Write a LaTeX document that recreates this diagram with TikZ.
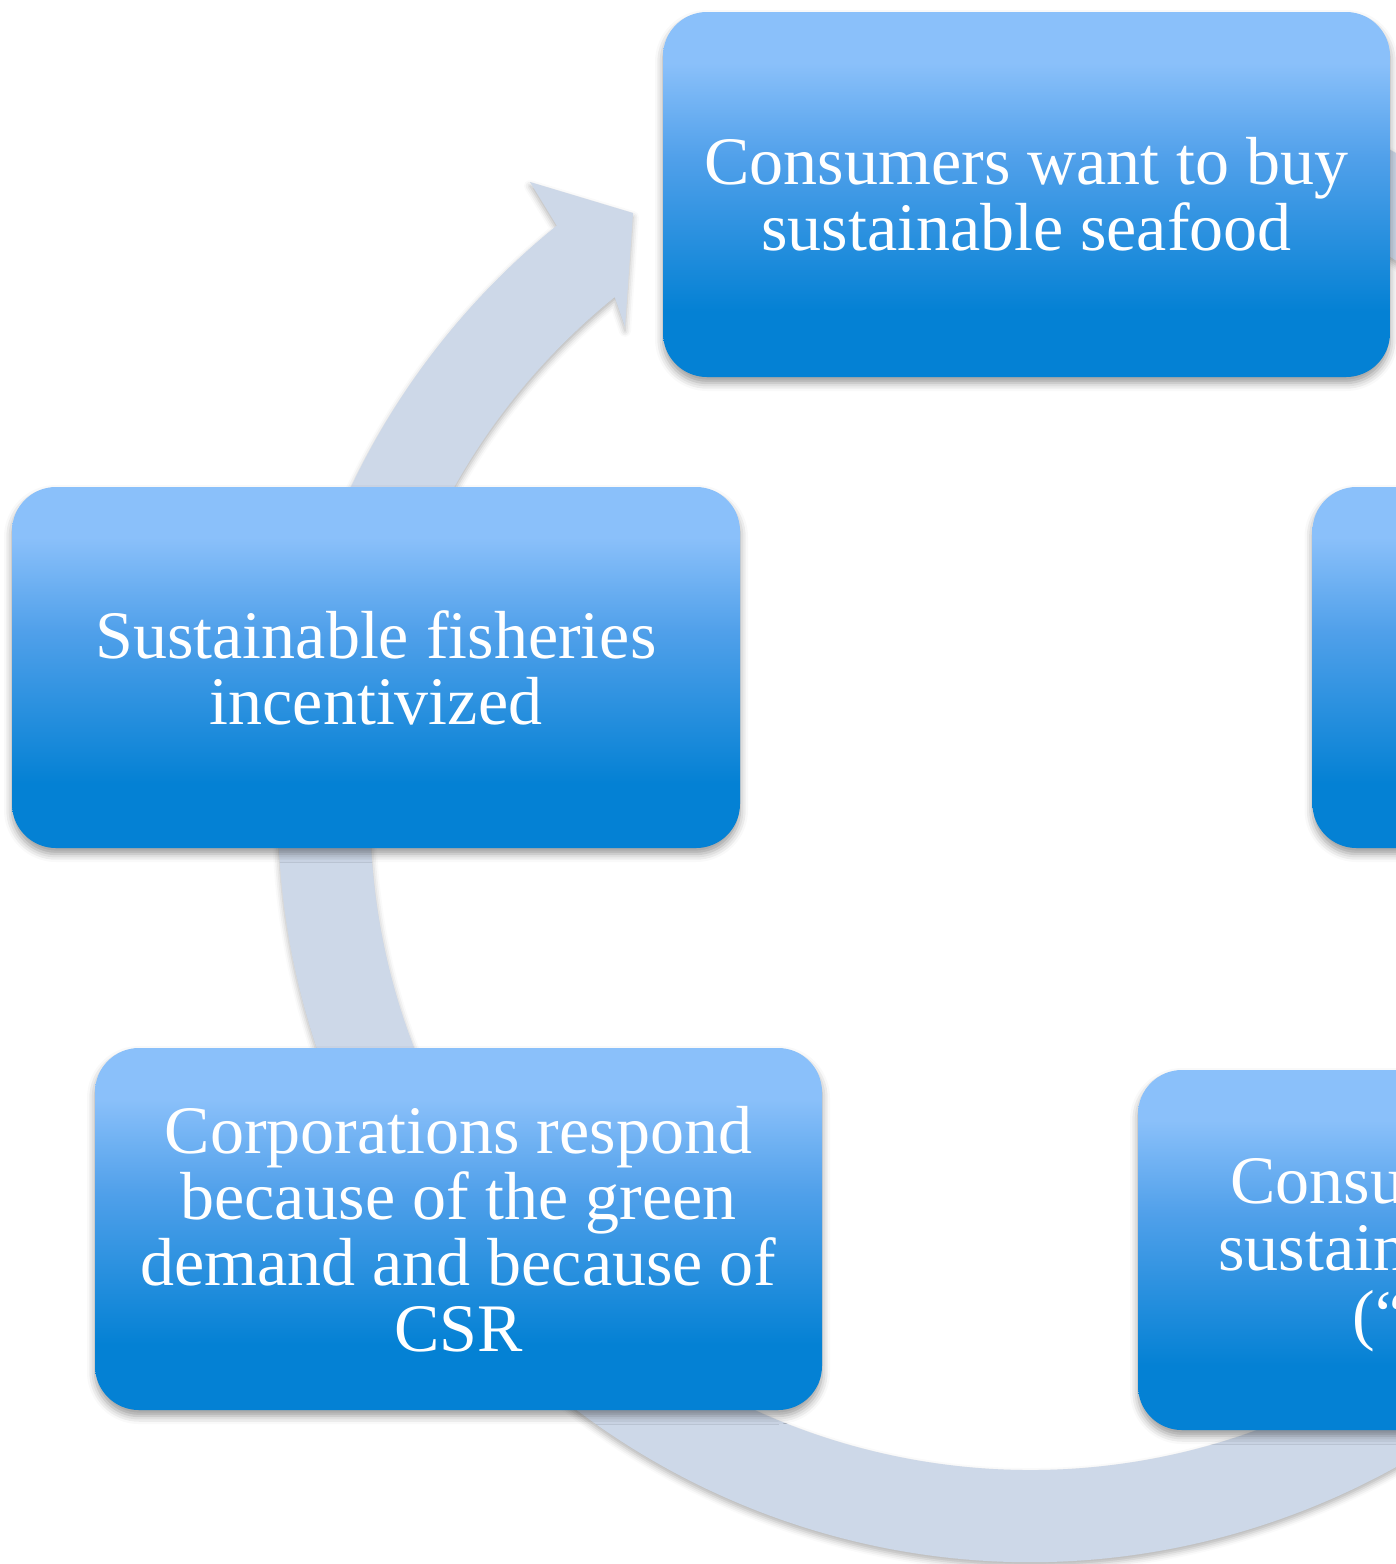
\documentclass[tikz,border=0pt]{standalone}
\usepackage{fontspec}
\setmainfont{Liberation Serif}
\usetikzlibrary{shadows.blur}
\definecolor{ringc}{RGB}{205,216,232}
\definecolor{bdark}{RGB}{4,129,212}
\definecolor{bmid}{RGB}{80,160,234}
\definecolor{blight}{RGB}{138,192,250}
\pgfdeclareverticalshading{boxshade}{100bp}{color(0bp)=(bdark); color(25bp)=(bdark); color(34bp)=(bdark); color(55bp)=(bmid); color(68bp)=(blight); color(75bp)=(blight); color(100bp)=(blight)}
\tikzset{
  cbox/.style={rectangle, rounded corners=22pt, shading=boxshade, draw=none,
    inner sep=0pt, align=center, text=white,
    font=\fontsize{34}{33}\selectfont,
    blur shadow={shadow xshift=0pt, shadow yshift=-3pt, shadow blur radius=4pt, shadow opacity=40}},
  cuttext/.style={anchor=base west, inner sep=0pt, text=white, font=\fontsize{34}{33}\selectfont},
  ringstyle/.style={fill=ringc, blur shadow={shadow xshift=0pt, shadow yshift=-2pt, shadow blur radius=3pt, shadow opacity=30}}
}
\begin{document}
\begin{tikzpicture}[x=0.5pt,y=-0.5pt]
\useasboundingbox (0,0) rectangle (1396,1564);
\coordinate (C) at (1030,810);
\coordinate (barbout) at (530,182);
\coordinate (tip) at (633,213);
\coordinate (barbin) at (625,327);
\coordinate (notchin) at (614.7,297.1);
% big circular arrow
\path[ringstyle] (C) ++(250:752) arc[start angle=250, end angle=591, radius=752]
  -- (barbout) -- (tip) -- (barbin) -- (notchin)
  arc[start angle=591, end angle=250, radius=660] -- cycle;
% boxes
\node[cbox, minimum width=363.5pt, minimum height=182.5pt] (top) at (1026.5,194.5)
  {Consumers want to buy\\sustainable seafood};
\node[cbox, minimum width=364pt, minimum height=180.5pt] (left) at (376,667.5)
  {Sustainable fisheries\\incentivized};
\node[cbox, minimum width=363.5pt, minimum height=181pt] (botleft) at (458.5,1229)
  {Corporations respond\\because of the green\\demand and because of\\CSR};
\node[cbox, minimum width=364pt, minimum height=180.5pt] (right) at (1676.5,667.5) {};
\node[cbox, minimum width=363.5pt, minimum height=180pt] (botright) at (1501.5,1250) {};
\node[cuttext] (br1) at (1230,1203) {Consum};
\node[cuttext] (br2) at (1218,1270) {sustain};
\node[cuttext] (br3) at (1352,1337) {(“};
\end{tikzpicture}
\end{document}
